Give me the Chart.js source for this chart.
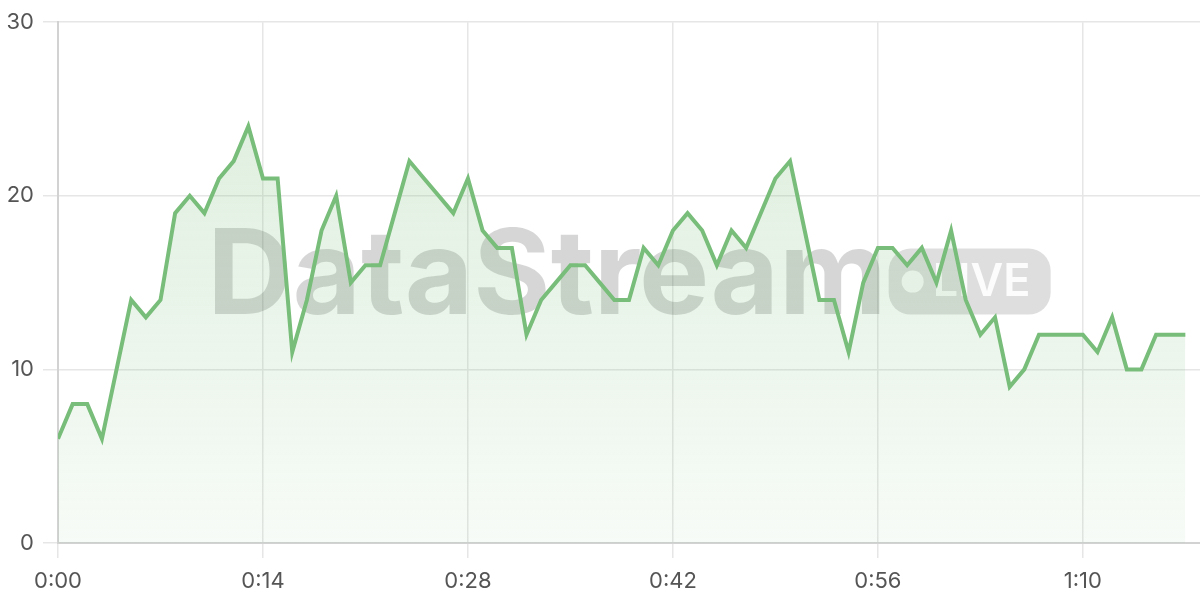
<!DOCTYPE html>
<html lang="en">
<head>
    <meta charset="UTF-8">
    <title>DataStream live</title>
    <style>
        * { margin: 0; padding: 0; box-sizing: border-box; }
        body { background: #fff; }
        .chart-box { width: 1200px; height: 600px; position: relative; }
    </style>
    <script src="https://cdn.jsdelivr.net/npm/chart.js"></script>
</head>
<body>
    <div class="chart-box">
        <canvas id="liveChart"></canvas>
    </div>

    <script>
        // one sample per second
        const sampleStepSec = 1;
        const values = [
            6, 8, 8, 6, 10, 14, 13, 14, 19, 20,
            19, 21, 22, 24, 21, 21, 11, 14, 18, 20,
            15, 16, 16, 19, 22, 21, 20, 19, 21, 18,
            17, 17, 12, 14, 15, 16, 16, 15, 14, 14,
            17, 16, 18, 19, 18, 16, 18, 17, 19, 21,
            22, 18, 14, 14, 11, 15, 17, 17, 16, 17,
            15, 18, 14, 12, 13, 9, 10, 12, 12, 12,
            12, 11, 13, 10, 10, 12, 12, 12
        ];
        const xTickValues = [0, 14, 28, 42, 56, 70];
        const xTickLabels = ['0:00', '0:14', '0:28', '0:42', '0:56', '1:10'];
        const yTicks = [0, 10, 20, 30];

        const lineColor = '#79bd7a';
        const tickFont = { family: 'Inter', size: 22 };

        // watermark behind the line
        const watermark = {
            id: 'watermark',
            beforeDatasetsDraw(chart) {
                const { ctx, chartArea } = chart;
                const cx = (chartArea.left + chartArea.right) / 2;
                const cy = (chartArea.top + chartArea.bottom) / 2;
                ctx.save();
                ctx.font = 'bold 118px Inter';
                ctx.textBaseline = 'alphabetic';
                const w = ctx.measureText('DataStream').width;
                const badgeW = 162, badgeH = 66, gap = 2;
                const total = w + gap + badgeW;
                const x0 = cx - total / 2;
                const base = cy + 31;
                ctx.fillStyle = 'rgba(0,0,0,0.16)';
                ctx.fillText('DataStream', x0, base);

                const bx = x0 + w + gap, by = base - badgeH + 1;
                ctx.beginPath();
                ctx.roundRect(bx, by, badgeW, badgeH, 22);
                ctx.fillStyle = 'rgba(0,0,0,0.13)';
                ctx.fill();
                ctx.fillStyle = 'rgba(255,255,255,0.9)';
                ctx.beginPath();
                ctx.arc(bx + 24, by + badgeH / 2, 11, 0, Math.PI * 2);
                ctx.fill();
                ctx.font = '600 45px Inter';
                ctx.textBaseline = 'middle';
                ctx.fillText('LIVE', bx + 44, by + badgeH / 2 + 1);
                ctx.restore();
            }
        };

        document.addEventListener('DOMContentLoaded', () => {
            const canvas = document.getElementById('liveChart');
            new Chart(canvas, {
                type: 'line',
                data: {
                    datasets: [{
                        data: values.map((v, i) => ({ x: i * sampleStepSec, y: v })),
                        borderColor: lineColor,
                        borderWidth: 4,
                        pointRadius: 0,
                        tension: 0,
                        fill: 'origin',
                        backgroundColor(context) {
                            const area = context.chart.chartArea;
                            if (!area) return 'rgba(121,189,122,0.15)';
                            const g = context.chart.ctx.createLinearGradient(0, area.top, 0, area.bottom);
                            g.addColorStop(0, 'rgba(121,189,122,0.28)');
                            g.addColorStop(1, 'rgba(121,189,122,0.06)');
                            return g;
                        }
                    }]
                },
                options: {
                    responsive: true,
                    maintainAspectRatio: false,
                    animation: false,
                    layout: { padding: { top: 20, right: 0, left: 0, bottom: 0 } },
                    plugins: {
                        legend: { display: false },
                        tooltip: { enabled: false }
                    },
                    scales: {
                        x: {
                            type: 'linear',
                            min: 0,
                            max: values.length * sampleStepSec,
                            afterBuildTicks(scale) {
                                scale.ticks = xTickValues.map(v => ({ value: v }));
                            },
                            afterFit(scale) { scale.height = 57; },
                            ticks: {
                                font: tickFont,
                                color: '#555',
                                padding: 10,
                                maxRotation: 0,
                                callback: (v) => xTickLabels[xTickValues.indexOf(v)]
                            },
                            grid: { color: '#e6e6e6', tickLength: 15, lineWidth: 1.5 },
                            border: { color: '#d2d2d2', width: 2 }
                        },
                        y: {
                            min: 0,
                            max: 30,
                            afterBuildTicks(scale) {
                                scale.ticks = yTicks.map(v => ({ value: v }));
                            },
                            afterFit(scale) { scale.width = 58; },
                            ticks: {
                                font: tickFont,
                                color: '#555',
                                padding: 9
                            },
                            grid: { color: '#e6e6e6', tickLength: 15, lineWidth: 1.5 },
                            border: { color: '#d2d2d2', width: 2 }
                        }
                    }
                },
                plugins: [watermark]
            });
        });
    </script>
</body>
</html>
